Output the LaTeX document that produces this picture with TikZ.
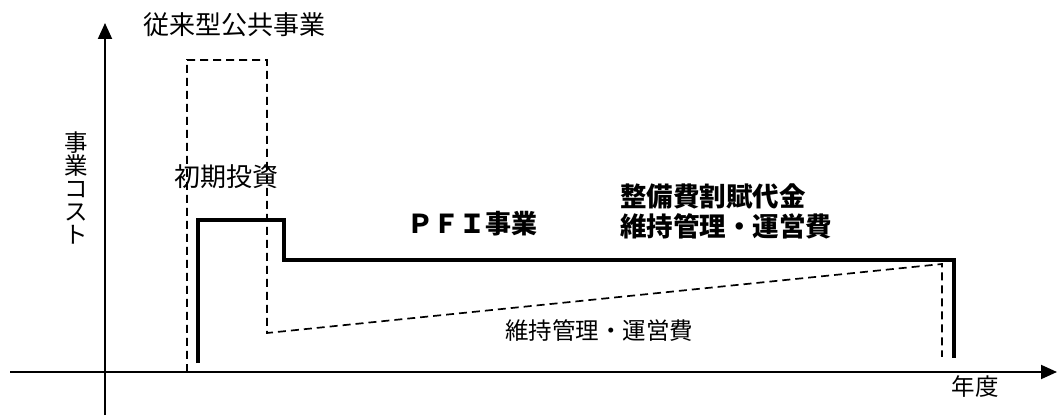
\documentclass[tikz,border=0pt]{standalone}
\usepackage{fontspec}
\newfontfamily\cjk{Noto Sans CJK JP}
\usetikzlibrary{arrows.meta}
\begin{document}
\begin{tikzpicture}[x=1pt,y=-1pt,
  axisline/.style={line width=1.9pt,-{Triangle[length=16pt,width=14pt]}},
  oldline/.style={line width=1.7pt,dash pattern=on 8pt off 5pt},
  pfiline/.style={line width=4pt},
  lbl/.style={font=\cjk\fontsize{26}{26}\selectfont,inner sep=0pt},
  blbl/.style={font=\cjk\bfseries\fontsize{26.5}{30}\selectfont,inner sep=0pt,align=left}]
\useasboundingbox (0,0) rectangle (1057,419);
% axes
\coordinate (xs) at (10,372);
\coordinate (xe) at (1057,372);
\coordinate (ys) at (105,415);
\coordinate (ye) at (105,23);
\draw[axisline] (xs) -- (xe);
\draw[axisline] (ys) -- (ye);
% conventional public works (dashed)
\coordinate (d1) at (187,372);
\coordinate (d2) at (187,60);
\coordinate (d3) at (267,60);
\coordinate (d4) at (267,333);
\coordinate (d5) at (942,264);
\coordinate (d6) at (942,357);
\draw[oldline] (d1) -- (d2) -- (d3) -- (d4) -- (d5) -- (d6);
% PFI (thick)
\coordinate (p1) at (198,363);
\coordinate (p2) at (198,220);
\coordinate (p3) at (284,220);
\coordinate (p4) at (284,260);
\coordinate (p5) at (954,260);
\coordinate (p6) at (954,358);
\draw[pfiline] (p1) -- (p2) -- (p3) -- (p4) -- (p5) -- (p6);
% labels
\node[lbl] (t1) at (234,25) {従来型公共事業};
\node[lbl,align=center,font=\cjk\fontsize{23.5}{23}\selectfont] (t2) at (76,188) {事\\業\\コ\\ス\\ト};
\node[lbl] (t3) at (226,177) {初期投資};
\node[lbl,font=\cjk\bfseries\fontsize{26}{26}\selectfont] (t4) at (472,224) {ＰＦＩ事業};
\node[blbl,anchor=north west] (t5) at (620,184) {整備費割賦代金\\維持管理・運営費};
\node[lbl,font=\cjk\fontsize{23.5}{23.5}\selectfont] (t6) at (599,331) {維持管理・運営費};
\node[lbl,font=\cjk\fontsize{23.5}{23.5}\selectfont] (t7) at (975,387) {年度};
\end{tikzpicture}
\end{document}
